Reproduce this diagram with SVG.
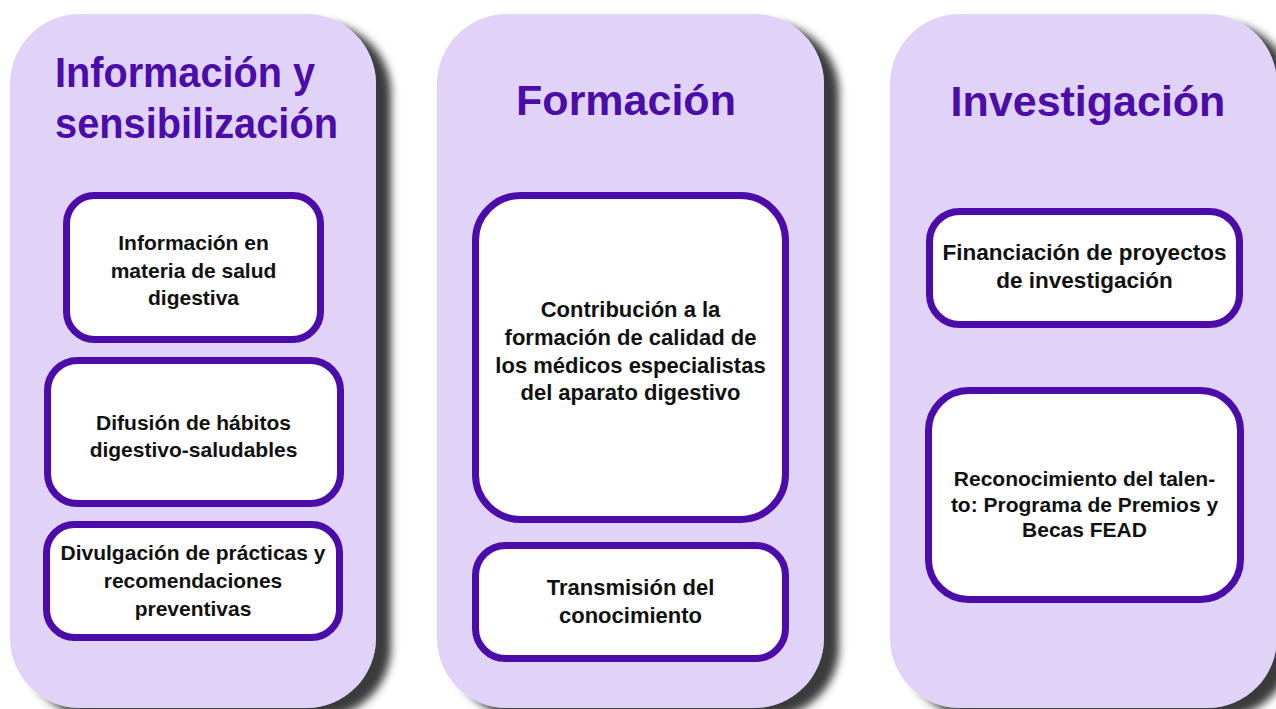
<svg xmlns="http://www.w3.org/2000/svg" width="1276" height="709" viewBox="0 0 1276 709">
  <defs>
    <filter id="shadow" x="-10%" y="-10%" width="130%" height="130%">
      <feDropShadow dx="15" dy="9" stdDeviation="4" flood-color="#3b3b3b" flood-opacity="1"/>
    </filter>
    <style>
      .col { fill: #e1d3f7; filter: url(#shadow); }
      .box { fill: #ffffff; stroke: #4b0ca9; stroke-width: 7; }
      .title { font-family: "Liberation Sans", Arial, sans-serif; font-weight: bold; font-size: 43px; fill: #4b0ca9; }
      .t { font-family: "Liberation Sans", Arial, sans-serif; font-weight: bold; fill: #111111; text-anchor: middle; }
    </style>
  </defs>
  <rect width="1276" height="709" fill="#ffffff"/>

  <g id="col-informacion">
    <rect class="col" x="10" y="14" width="366" height="694" rx="70"/>
    <text class="title" x="55" y="87" textLength="260" lengthAdjust="spacingAndGlyphs">Información y</text>
    <text class="title" x="55" y="138" textLength="283" lengthAdjust="spacingAndGlyphs">sensibilización</text>
  </g>
  <g id="col-formacion">
    <rect class="col" x="437" y="14" width="387" height="694" rx="70"/>
    <text class="title" x="626" y="115" text-anchor="middle">Formación</text>
  </g>
  <g id="col-investigacion">
    <rect class="col" x="890" y="14" width="387" height="694" rx="70"/>
    <text class="title" x="1088" y="116" text-anchor="middle">Investigación</text>
  </g>

  <g id="connectors"></g>

  <g id="box-info-salud">
    <rect class="box" x="66.5" y="195.5" width="254" height="144" rx="28"/>
    <text class="t" font-size="21" x="193.5" y="250">Información en</text>
    <text class="t" font-size="21" x="193.5" y="278">materia de salud</text>
    <text class="t" font-size="21" x="193.5" y="305">digestiva</text>
  </g>
  <g id="box-difusion">
    <rect class="box" x="47.5" y="360.5" width="293" height="143" rx="30"/>
    <text class="t" font-size="21" x="193.5" y="430">Difusión de hábitos</text>
    <text class="t" font-size="21" x="193.5" y="457">digestivo-saludables</text>
  </g>
  <g id="box-divulgacion">
    <rect class="box" x="46.5" y="524.5" width="293" height="113" rx="28"/>
    <text class="t" font-size="21" x="193" y="560">Divulgación de prácticas y</text>
    <text class="t" font-size="21" x="193" y="588">recomendaciones</text>
    <text class="t" font-size="21" x="193" y="616">preventivas</text>
  </g>
  <g id="box-contribucion">
    <rect class="box" x="475.5" y="195.5" width="310" height="324" rx="45"/>
    <text class="t" font-size="22" x="630.5" y="317">Contribución a la</text>
    <text class="t" font-size="22" x="630.5" y="345">formación de calidad de</text>
    <text class="t" font-size="22" x="630.5" y="373">los médicos especialistas</text>
    <text class="t" font-size="22" x="630.5" y="400">del aparato digestivo</text>
  </g>
  <g id="box-transmision">
    <rect class="box" x="475.5" y="545.5" width="310" height="113" rx="30"/>
    <text class="t" font-size="22" x="630.5" y="595">Transmisión del</text>
    <text class="t" font-size="22" x="630.5" y="623">conocimiento</text>
  </g>
  <g id="box-financiacion">
    <rect class="box" x="929.5" y="211.5" width="310" height="113" rx="30"/>
    <text class="t" font-size="22.5" x="1084.5" y="260">Financiación de proyectos</text>
    <text class="t" font-size="22.5" x="1084.5" y="288">de investigación</text>
  </g>
  <g id="box-reconocimiento">
    <rect class="box" x="928.5" y="390.5" width="312" height="209" rx="40"/>
    <text class="t" font-size="21" x="1084.5" y="486">Reconocimiento del talen-</text>
    <text class="t" font-size="21" x="1084.5" y="512">to: Programa de Premios y</text>
    <text class="t" font-size="21" x="1084.5" y="537">Becas FEAD</text>
  </g>
</svg>
